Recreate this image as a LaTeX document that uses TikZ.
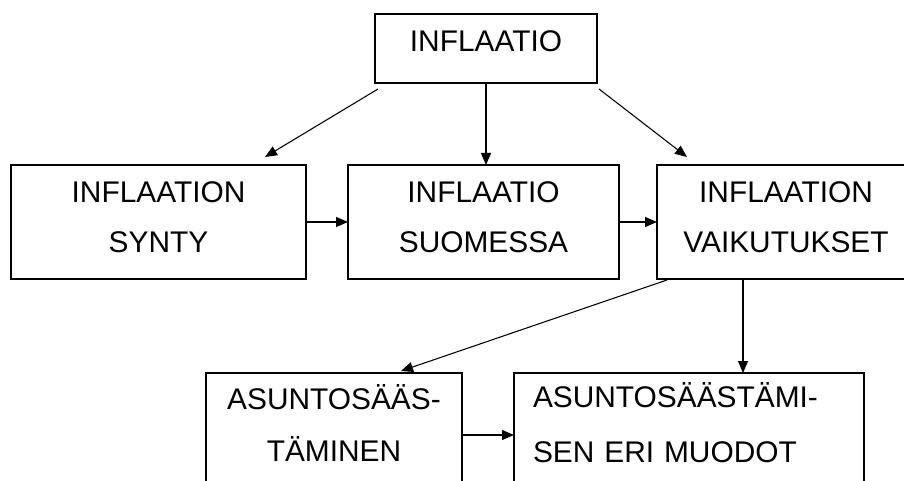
\documentclass[tikz,border=0pt]{standalone}
\usepackage{fontspec}
\setmainfont{Liberation Sans}
\usetikzlibrary{arrows.meta,calc,positioning}

\begin{document}
\begin{tikzpicture}[x=0.75pt,y=0.75pt,
    box/.style={draw,line width=1.1pt,rectangle,inner sep=0pt,outer sep=0pt,align=center,
      font=\fontsize{22.4pt}{37.5pt}\selectfont},
    ar/.style={line width=0.8pt,-{Triangle[length=9pt,width=7.5pt]}}]
  \useasboundingbox (0,0) rectangle (904,-481);
  \clip (0,0) rectangle (904,-481);
  \node [box, anchor=north west, minimum width=166.5pt, minimum height=51.75pt, text depth=11pt] (infl) at (375,-14) {INFLAATIO};
  \node [box, anchor=north west, minimum width=221.25pt, minimum height=85.5pt, text depth=7.5pt] (synty) at (11,-165) {INFLAATION\\SYNTY};
  \node [box, right=31.5pt of synty, minimum width=203.25pt, minimum height=85.5pt, text depth=7.5pt] (suomi) {INFLAATIO\\SUOMESSA};
  \node [box, right=28.5pt of suomi, minimum width=193.5pt, minimum height=85.5pt, text depth=7.5pt] (vaik) {INFLAATION\\VAIKUTUKSET};
  \node [box, anchor=north west, minimum width=192pt, minimum height=97.5pt, text depth=23pt,
    font=\fontsize{22.4pt}{39pt}\selectfont] (saasA) at (206,-373) {ASUNTOSÄÄS-\\TÄMINEN};
  \node [box, right=39pt of saasA, text width=234pt, inner xsep=14.25pt, align=left, minimum height=97.5pt,
    text height=16.5pt, text depth=63pt, font=\fontsize{22.4pt}{41.25pt}\selectfont] (saasB) {ASUNTOSÄÄSTÄMI-\\SEN ERI MUODOT};
  % nuolet
  \coordinate (vaikB) at ($(vaik.south west)+(86,0)$);
  \draw [ar] ($(infl.south west)+(3,-6)$) -- ($(synty.north east)+(-41,8)$);
  \draw [ar] (infl.south) -- (infl.south |- suomi.north);
  \draw [ar] ($(infl.south east)+(2,-6)$) -- ($(vaik.north west)+(30,8)$);
  \draw [ar] (synty) -- (suomi);
  \draw [ar] (suomi) -- (vaik);
  \draw [ar] ($(vaik.south west)+(10,-1)$) -- ($(saasA.north east)+(-61,2)$);
  \draw [ar] (vaikB) -- (vaikB |- saasB.north);
  \draw [ar] ($(saasA.north east)+(0,-62)$) -- ($(saasB.north west)+(0,-62)$);
\end{tikzpicture}
\end{document}
